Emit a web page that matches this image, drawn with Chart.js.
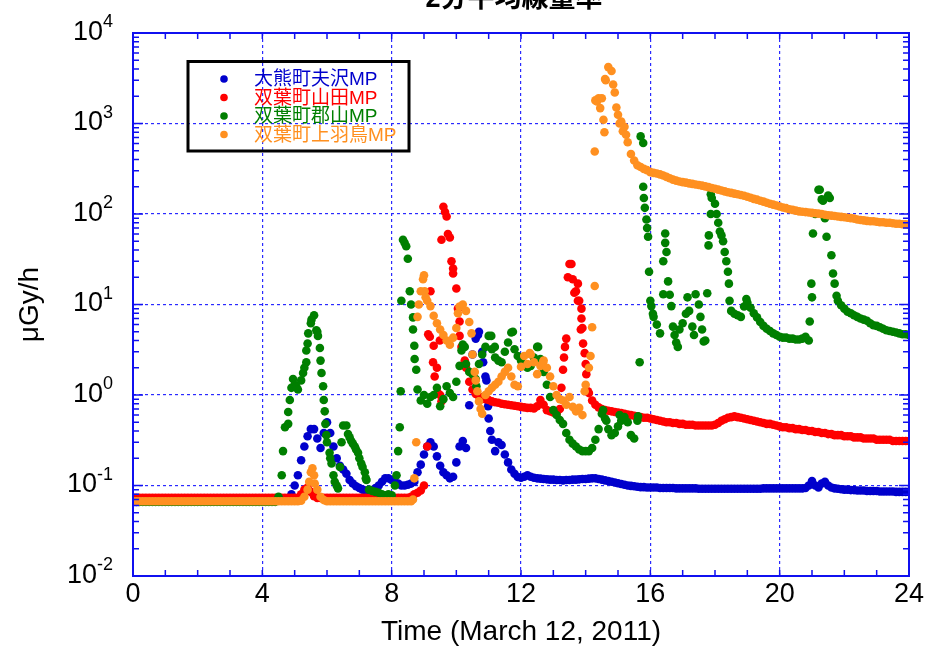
<!DOCTYPE html>
<html>
<head>
<meta charset="utf-8">
<script src="https://cdn.jsdelivr.net/npm/chart.js@4.4.1/dist/chart.umd.min.js"></script>
<style>
  html, body { margin: 0; padding: 0; background: #fff; }
  #wrap { width: 929px; height: 646px; }
</style>
</head>
<body>
<div id="wrap"><canvas id="chart" width="929" height="646"></canvas></div>
<script>
// 2-minute average dose rate (uGy/h) at 0.1 h steps
const chartTitle = '2分平均線量率';
const seriesNames = ['大熊町夫沢MP', '双葉町山田MP', '双葉町郡山MP', '双葉町上羽鳥MP'];
const hours = Array.from({ length: 241 }, (_, i) => i / 10);
const xTickStep = 4;
const yTickValues = [0.01, 0.1, 1, 10, 100, 1000, 10000];
const yTickExponents = ['-2', '-1', '0', '1', '2', '3', '4'];

const ottozawaValues = [
  0.071,0.071,0.071,0.071,0.071,0.071,0.071,0.071,0.071,0.071,
  0.071,0.071,0.071,0.071,0.071,0.071,0.071,0.071,0.071,0.071,
  0.071,0.071,0.071,0.071,0.071,0.071,0.071,0.071,0.071,0.071,
  0.071,0.071,0.071,0.071,0.071,0.071,0.071,0.071,0.071,0.071,
  0.071,0.071,0.071,0.071,0.071,0.071,0.071,0.071,0.072,0.08,
  0.1,0.13,0.19,0.27,0.35,0.42,0.42,0.33,0.26,0.38,
  0.5,0.38,0.27,0.2,0.165,0.15,0.135,0.115,0.105,0.098,
  0.094,0.09,0.088,0.087,0.089,0.094,0.1,0.11,0.12,0.12,
  0.115,0.11,0.105,0.1,0.1,0.102,0.105,0.11,0.14,0.17,
  0.22,0.27,0.3,0.27,0.21,0.165,0.14,0.13,0.12,0.125,
  0.18,0.27,0.31,0.26,0.77,2.8,4.2,5.0,3.0,1.6,
  0.55,0.32,0.24,0.3,0.28,0.22,0.18,0.15,0.135,0.124,
  0.122,0.125,0.13,0.125,0.122,0.12,0.119,0.118,0.117,0.116,
  0.116,0.115,0.115,0.114,0.115,0.115,0.116,0.116,0.117,0.118,
  0.118,0.119,0.12,0.12,0.118,0.116,0.114,0.112,0.11,0.108,
  0.106,0.104,0.102,0.1,0.099,0.098,0.097,0.096,0.096,0.095,
  0.095,0.095,0.095,0.094,0.094,0.094,0.094,0.094,0.093,0.093,
  0.093,0.093,0.093,0.093,0.093,0.092,0.092,0.092,0.092,0.092,
  0.092,0.092,0.092,0.092,0.092,0.092,0.092,0.092,0.092,0.092,
  0.092,0.092,0.092,0.092,0.092,0.093,0.093,0.093,0.093,0.093,
  0.093,0.093,0.093,0.093,0.093,0.093,0.093,0.093,0.094,0.1,
  0.112,0.1,0.095,0.105,0.11,0.1,0.095,0.093,0.092,0.091,
  0.09,0.09,0.089,0.089,0.088,0.088,0.088,0.087,0.087,0.087,
  0.087,0.086,0.086,0.086,0.086,0.086,0.085,0.085,0.085,0.085,
  0.085
];
const ottozawaExtra = [[10.67,4.6],[10.83,2.3],[10.93,1.45],[10.98,0.75],[11.05,0.4]];

const yamadaValues = [
  0.073,0.073,0.073,0.073,0.073,0.073,0.073,0.073,0.073,0.073,
  0.073,0.073,0.073,0.073,0.073,0.073,0.073,0.073,0.073,0.073,
  0.073,0.073,0.073,0.073,0.073,0.073,0.073,0.073,0.073,0.073,
  0.073,0.073,0.073,0.073,0.073,0.073,0.073,0.073,0.073,0.073,
  0.073,0.073,0.073,0.073,0.073,0.073,0.073,0.073,0.073,0.073,
  0.073,0.073,0.08,0.09,0.095,0.085,0.076,0.073,0.073,0.073,
  0.073,0.073,0.073,0.073,0.073,0.073,0.073,0.073,0.073,0.073,
  0.073,0.073,0.073,0.073,0.073,0.073,0.073,0.073,0.073,0.073,
  0.073,0.073,0.073,0.073,0.073,0.073,0.075,0.08,0.083,0.088,
  0.1,0.27,14,3.5,2.0,1.0,120,94,55,25,
  15,6.5,3.5,2.0,1.4,1.15,1.03,0.97,0.93,0.9,
  0.88,0.85,0.83,0.82,0.8,0.79,0.78,0.77,0.76,0.75,
  0.74,0.73,0.72,0.72,0.71,0.75,0.88,0.78,0.68,0.66,
  0.64,0.63,0.7,1.9,4.2,28,19,14,11,5.5,
  2.2,1.05,0.87,0.78,0.73,0.7,0.68,0.67,0.66,0.65,
  0.64,0.63,0.62,0.61,0.6,0.59,0.58,0.57,0.56,0.56,
  0.55,0.54,0.53,0.52,0.51,0.5,0.5,0.49,0.49,0.48,
  0.48,0.47,0.47,0.47,0.46,0.46,0.46,0.46,0.46,0.46,
  0.47,0.49,0.52,0.54,0.56,0.57,0.58,0.57,0.56,0.55,
  0.54,0.53,0.52,0.51,0.5,0.49,0.48,0.48,0.47,0.46,
  0.45,0.44,0.44,0.43,0.43,0.42,0.42,0.41,0.41,0.4,
  0.4,0.39,0.39,0.38,0.38,0.37,0.37,0.36,0.36,0.36,
  0.35,0.35,0.35,0.34,0.34,0.34,0.33,0.33,0.33,0.33,
  0.32,0.32,0.32,0.32,0.32,0.31,0.31,0.31,0.31,0.31,
  0.31
];
const yamadaExtra = [
  [9.13,4.7],[9.18,4.4],[9.28,2.3],[9.33,1.6],[9.43,1.05],[9.49,4.0],[9.54,0.85],
  [9.54,52],[9.65,105],[9.74,60],[9.85,30],[9.9,22],[10.05,9],[10.1,4.5],[10.16,3.4],[10.26,2.4],
  [13.25,1.2],[13.33,2.6],[13.36,3.4],[13.45,20],[13.56,28],[13.65,13.5],[13.76,17],[13.76,11],
  [13.87,9],[13.87,7],[13.85,5.3],[13.92,3.7],[13.97,2.9],[14.02,1.7],[14.07,1.1]
];

const koriyamaValues = [
  0.066,0.066,0.066,0.066,0.066,0.066,0.066,0.066,0.066,0.066,
  0.066,0.066,0.066,0.066,0.066,0.066,0.066,0.066,0.066,0.066,
  0.066,0.066,0.066,0.066,0.066,0.066,0.066,0.066,0.066,0.066,
  0.066,0.066,0.066,0.066,0.066,0.066,0.066,0.066,0.066,0.066,
  0.066,0.066,0.066,0.066,0.066,0.075,0.13,0.44,0.65,1.2,
  1.3,1.15,1.45,2.0,3.7,6.2,7.6,5.0,2.4,0.88,
  0.3,0.2,0.13,0.1,0.16,0.46,0.46,0.34,0.29,0.25,
  0.2,0.16,0.12,0.09,0.087,0.085,0.083,0.08,0.078,0.08,
  0.078,0.1,0.24,11,48,32,10,3.5,1.15,0.87,
  1.0,0.8,0.95,1.0,1.2,0.75,0.9,1.25,1.05,0.95,
  1.4,2.1,3.6,2.2,1.8,1.7,1.5,2.2,2.8,3.4,
  4.5,3.2,2.6,2.4,2.3,3.0,3.8,4.9,3.2,2.7,
  2.4,2.1,2.0,2.1,2.6,3.4,2.5,1.8,1.3,0.95,
  0.68,0.6,0.53,0.48,0.38,0.32,0.29,0.27,0.25,0.24,
  0.24,0.24,0.26,0.32,0.42,0.62,0.55,0.42,0.36,0.38,
  0.45,0.52,0.57,0.5,0.36,0.33,0.52,720,150,70,
  11,7.3,6.0,4.8,13,38,12.8,5.7,3.8,5.3,
  6.2,7.9,8.5,5.7,13,10,5.3,4.0,45,150,
  130,80,58,38,23,8.5,7.9,7.6,7.3,9.5,
  10.5,9.2,8.0,7.2,6.4,5.8,5.4,5.1,4.8,4.6,
  4.4,4.3,4.3,4.2,4.2,4.1,4.1,4.2,4.4,4.0,
  12,100,185,145,90,160,35,17,11,9.8,
  9.0,8.3,8.0,7.6,7.3,7.0,6.8,6.6,6.2,5.9,
  5.8,5.6,5.4,5.2,5.1,5.0,4.9,4.8,4.7,4.7,
  4.6
];
const koriyamaExtra = [
  [4.64,0.24],[4.8,0.48],[4.85,0.88],[4.95,1.5],[5.05,1.25],[5.26,1.75],[5.36,2.3],[5.36,3.1],
  [5.42,4.8],[5.52,6.8],[5.67,5.2],[5.72,4.5],[5.78,3.3],[5.83,1.75],[5.88,1.25],[5.93,0.66],
  [5.95,0.48],[5.98,0.36],[6.08,0.23],[6.14,0.175],[6.24,0.11],[6.34,0.093],[6.45,0.3],
  [6.65,0.37],[6.75,0.31],[6.86,0.27],[6.96,0.23],[7.06,0.175],[7.17,0.14],[7.22,0.115],
  [8.15,0.13],[8.25,0.44],[8.28,1.1],[8.35,52],[8.45,44],[8.56,14],[8.66,7.2],[8.66,5.3],
  [8.71,2.5],[8.76,1.9],
  [10.16,3.1],[10.26,3.4],[10.62,1.25],[11.08,4.5],[11.19,3.4],[11.75,5.0],[12.53,3.4],[12.63,2.4],
  [14.54,0.68],[14.64,0.52],[15.05,0.6],[15.62,0.58],[15.67,2.3],[15.78,610],[15.78,200],
  [15.83,117],[15.88,87],[15.93,56],[15.96,23],
  [16.03,9.6],[16.08,7.9],[16.4,30],[16.46,61],[16.46,48],[16.55,18],[16.65,9.6],[16.75,4.6],
  [16.85,3.4],[17.15,12],[17.35,4.6],[17.55,7.3],[17.65,3.9],[17.76,13.3],[17.81,58],
  [17.87,100],[17.87,165],[18.05,100],[18.15,64],[18.25,50],[18.35,30],[18.43,17],[18.45,11],
  [18.97,11.5],[20.93,6.5],[20.98,17],[21.03,61],[21.24,185],[21.34,140],[21.45,56],
  [21.55,150],[21.65,22],[21.76,12.5]
];

const kamihatoriValues = [
  0.067,0.067,0.067,0.067,0.067,0.067,0.067,0.067,0.067,0.067,
  0.067,0.067,0.067,0.067,0.067,0.067,0.067,0.067,0.067,0.067,
  0.067,0.067,0.067,0.067,0.067,0.067,0.067,0.067,0.067,0.067,
  0.067,0.067,0.067,0.067,0.067,0.067,0.067,0.067,0.067,0.067,
  0.067,0.067,0.067,0.067,0.067,0.067,0.067,0.067,0.067,0.067,
  0.067,0.067,0.068,0.075,0.09,0.14,0.13,0.09,0.075,0.069,
  0.067,0.067,0.067,0.067,0.067,0.067,0.067,0.067,0.067,0.067,
  0.067,0.067,0.067,0.067,0.067,0.067,0.067,0.067,0.067,0.067,
  0.067,0.067,0.067,0.067,0.067,0.067,0.067,0.12,7.3,14,
  21,11,9.6,7.5,6.2,5.3,4.6,4.0,3.6,4.3,
  5.5,9.5,10,8.5,6.4,2.8,1.45,0.85,0.62,1.0,
  1.1,1.2,1.3,1.4,1.6,1.8,2.0,1.6,1.3,1.25,
  2.05,2.7,2.2,2.8,2.3,1.7,2.1,2.4,2.0,1.6,
  1.25,1.0,0.9,0.87,0.78,0.95,0.74,0.66,0.72,0.6,
  1.3,2.0,5.6,1800,1900,1900,3100,4200,3800,2200,
  1250,1050,920,620,460,390,345,330,315,305,
  290,285,280,274,266,257,248,240,234,229,
  225,222,218,215,212,209,206,202,198,194,
  190,186,182,178,174,171,168,165,162,159,
  155,151,147,144,140,137,133,130,127,124,
  121,118,116,113,111,109,107,106,105,104,
  103,102,101,100,98,97,96,95,94,93,
  92,91,90,89,87,86,85,84,83,83,
  82,81,81,80,80,79,78,78,77,77,
  76
];
const kamihatoriExtra = [
  [5.45,0.11],[5.55,0.155],[5.62,0.105],[8.66,0.07],[8.76,0.3],[8.84,10],[8.97,19],[9.02,14],
  [9.05,12],[10.05,8],[10.47,4.8],[10.57,1.8],[10.65,1.1],[10.75,0.7],[12.27,2.9],[12.68,2.3],
  [13.97,1.1],[14.15,2.7],[14.28,16],[14.28,490],[14.35,1750],[14.45,1480],[14.55,1100],
  [14.58,800],[14.62,3000],[14.85,2700],[14.95,1500],[15.05,1000],[15.15,820],[15.25,750]
];

const seriesColors = ['#0000cc', '#ff0000', '#007f00', '#ff9020'];
const FONT = '"Liberation Sans", Arial, "Noto Sans CJK JP", sans-serif';
const AXIS_BLUE = '#1010f0';
const GRID_BLUE = '#2a2aff';

function toPoints(values, extra) {
  const pts = values.map((v, i) => ({ x: hours[i], y: v }));
  extra.forEach(([t, v]) => pts.push({ x: t, y: v }));
  return pts.sort((a, b) => a.x - b.x);
}

const seriesData = [
  toPoints(ottozawaValues, ottozawaExtra),
  toPoints(yamadaValues, yamadaExtra),
  toPoints(koriyamaValues, koriyamaExtra),
  toPoints(kamihatoriValues, kamihatoriExtra)
];

// frame, inward ticks, superscript y labels, title and boxed legend
const decorations = {
  id: 'decorations',
  afterDraw(chart) {
    const { ctx, chartArea: a, scales: { x, y } } = chart;
    ctx.save();

    ctx.strokeStyle = AXIS_BLUE;
    ctx.lineWidth = 1.5;
    ctx.beginPath();
    for (let h = 0; h <= 24; h++) {
      const px = x.getPixelForValue(h);
      ctx.moveTo(px, a.bottom); ctx.lineTo(px, a.bottom - 6);
      ctx.moveTo(px, a.top); ctx.lineTo(px, a.top + 6);
    }
    for (let e = -2; e < 4; e++) {
      for (let m = 1; m < 10; m++) {
        const py = y.getPixelForValue(m * Math.pow(10, e));
        const len = m === 1 ? 10 : 6;
        ctx.moveTo(a.left, py); ctx.lineTo(a.left + len, py);
        ctx.moveTo(a.right, py); ctx.lineTo(a.right - len, py);
      }
    }
    ctx.stroke();
    ctx.lineWidth = 2;
    ctx.strokeRect(a.left, a.top, a.right - a.left, a.bottom - a.top);

    // "10" with a raised exponent, right edge at x = 113
    ctx.fillStyle = '#000';
    ctx.textBaseline = 'alphabetic';
    ctx.textAlign = 'left';
    yTickValues.forEach((v, i) => {
      const py = y.getPixelForValue(v);
      ctx.font = '18px ' + FONT;
      const ew = ctx.measureText(yTickExponents[i]).width;
      ctx.fillText(yTickExponents[i], 113 - ew, py - 6);
      ctx.font = '27px ' + FONT;
      const bw = ctx.measureText('10').width;
      ctx.fillText('10', 113 - ew - bw, py + 6.5);
    });

    ctx.font = 'bold 27px ' + FONT;
    ctx.textAlign = 'center';
    ctx.fillText(chartTitle, 514, 7);

    ctx.lineWidth = 3;
    ctx.strokeStyle = '#000';
    ctx.strokeRect(188, 61.5, 221, 89.5);
    ctx.font = '19px ' + FONT;
    ctx.textAlign = 'left';
    ctx.textBaseline = 'middle';
    chart.data.datasets.forEach((ds, i) => {
      const ry = 79 + i * 18.5;
      ctx.fillStyle = ds.backgroundColor;
      ctx.beginPath();
      ctx.arc(224, ry, 3.8, 0, Math.PI * 2);
      ctx.fill();
      ctx.fillText(ds.label, 254, ry + 1);
    });
    ctx.restore();
  }
};

Chart.defaults.font.family = FONT;

new Chart(document.getElementById('chart'), {
  type: 'scatter',
  data: {
    datasets: seriesNames.map((name, i) => ({
      label: name,
      data: seriesData[i],
      backgroundColor: seriesColors[i],
      borderColor: seriesColors[i],
      borderWidth: 0,
      pointRadius: 4.3,
      pointHoverRadius: 4.3,
      order: 3 - i
    }))
  },
  options: {
    responsive: false,
    animation: false,
    devicePixelRatio: 1,
    layout: { padding: { left: 16, right: 20, top: 33, bottom: 0 } },
    plugins: {
      legend: { display: false },
      tooltip: { enabled: false },
      title: { display: false }
    },
    scales: {
      x: {
        type: 'linear',
        min: 0,
        max: 24,
        afterFit: (s) => { s.height = 70; },
        ticks: { stepSize: xTickStep, color: '#000', font: { size: 27 }, padding: 2, maxRotation: 0 },
        grid: { color: GRID_BLUE, lineWidth: 1.2, drawTicks: false },
        border: { display: false, dash: [3, 3] },
        title: { display: true, text: 'Time (March 12, 2011)', color: '#000',
                 font: { size: 28, lineHeight: 1 }, padding: 0 }
      },
      y: {
        type: 'logarithmic',
        min: 0.01,
        max: 10000,
        afterFit: (s) => { s.width = 117; },
        afterBuildTicks: (s) => { s.ticks = yTickValues.map((v) => ({ value: v })); },
        ticks: { display: false },
        grid: { color: GRID_BLUE, lineWidth: 1.2, drawTicks: false },
        border: { display: false, dash: [3, 3] },
        title: { display: true, text: 'μGy/h', color: '#000',
                 font: { size: 28, lineHeight: 1 }, padding: 0 }
      }
    }
  },
  plugins: [decorations]
});
</script>
</body>
</html>
